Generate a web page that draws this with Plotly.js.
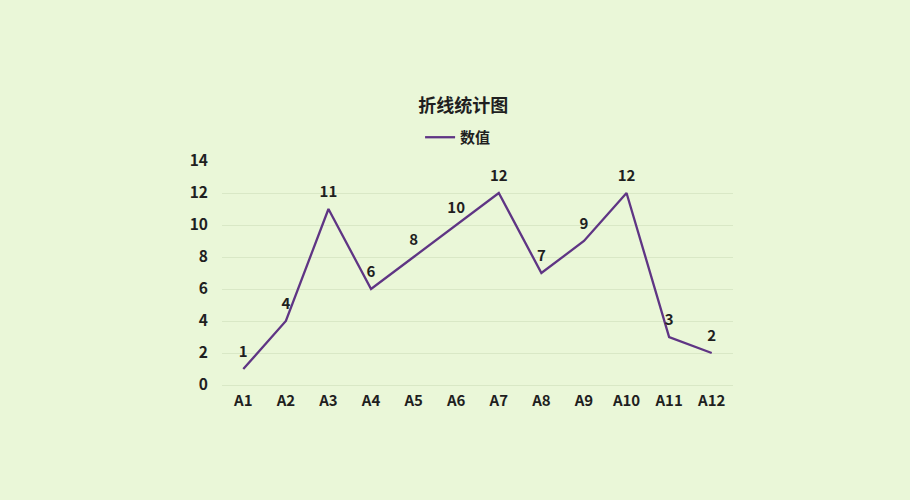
<!DOCTYPE html>
<html>
<head>
<meta charset="utf-8">
<script src="https://cdn.plot.ly/plotly-3.0.1.min.js"></script>
<style>
  html, body { margin: 0; padding: 0; background: #eaf7d8; }
  #plot { width: 910px; height: 500px; }
</style>
</head>
<body>
<div id="plot"></div>
<script>
var categories = ['A1', 'A2', 'A3', 'A4', 'A5', 'A6', 'A7', 'A8', 'A9', 'A10', 'A11', 'A12'];
var values = [1, 4, 11, 6, 8, 10, 12, 7, 9, 12, 3, 2];
var seriesName = '数值';
var chartTitle = '折线统计图';

var fontFamily = '"Noto Sans CJK SC", "Noto Sans", sans-serif';

// transparent markers only push the value labels a bit above the points
var line_trace = {
   name: seriesName,
   x: categories,
   y: values,
   type: 'scatter',
   mode: 'lines+markers+text',
   text: values.map(String),
   textposition: 'top center',
   textfont: { family: fontFamily, size: 15, color: '#1f1f1f', weight: 600 },
   marker: { size: 12, color: 'rgba(0,0,0,0)', line: { width: 0 } },
   line: { width: 2.3, color: '#5f3584' },
   cliponaxis: false
};

var layout = {
   width: 910,
   height: 500,
   paper_bgcolor: '#eaf7d8',
   plot_bgcolor: '#eaf7d8',
   margin: { l: 222, r: 177, t: 161, b: 115 },
   title: {
      text: chartTitle,
      font: { family: fontFamily, size: 18, color: '#1f1f1f', weight: 700 },
      x: 0.472,
      xref: 'paper',
      xanchor: 'center',
      y: 0.788,
      yref: 'container',
      yanchor: 'middle'
   },
   showlegend: true,
   legend: {
      orientation: 'h',
      x: 0.462,
      xanchor: 'center',
      y: 1.105,
      yanchor: 'middle',
      bgcolor: 'rgba(0,0,0,0)',
      font: { family: fontFamily, size: 15, color: '#1f1f1f', weight: 600 },
      itemwidth: 30
   },
   xaxis: {
      type: 'category',
      range: [-0.5, 11.5],
      showgrid: false,
      zeroline: false,
      showline: false,
      ticks: '',
      tickfont: { family: fontFamily, size: 15, color: '#1f1f1f', weight: 600 },
      ticklabelstandoff: 5
   },
   yaxis: {
      range: [0, 14],
      dtick: 2,
      showgrid: true,
      gridcolor: '#d9e8c6',
      gridwidth: 1,
      zeroline: true,
      zerolinecolor: '#d9e8c6',
      showline: false,
      ticks: '',
      tickfont: { family: fontFamily, size: 15.5, color: '#1f1f1f', weight: 600 },
      ticklabelstandoff: 13
   }
};

Plotly.newPlot('plot', [line_trace], layout, { displayModeBar: false, staticPlot: true });
</script>
</body>
</html>
